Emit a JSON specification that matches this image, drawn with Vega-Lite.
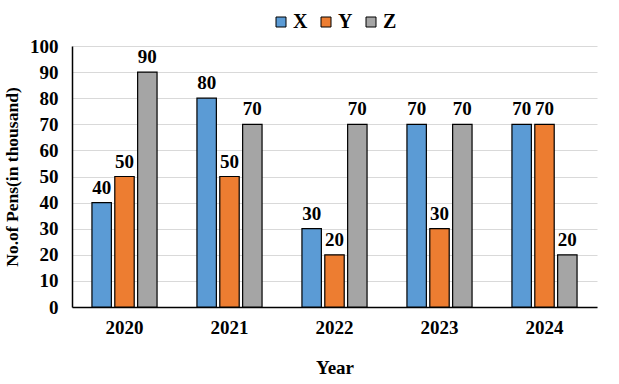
{
  "$schema": "https://vega.github.io/schema/vega-lite/v6.json",
  "autosize": "none",
  "width": 525,
  "height": 261,
  "padding": {"left": 72, "top": 46, "right": 22, "bottom": 77},
  "background": "white",
  "config": {
    "font": "Liberation Serif",
    "view": {"stroke": null},
    "axis": {"labelFont": "Liberation Serif", "titleFont": "Liberation Serif", "labelFontWeight": "bold", "titleFontWeight": "bold", "labelColor": "#000", "titleColor": "#000"}
  },
  "data": {
    "values": [
      {"Year": "2020", "Series": "X", "Value": 40},
      {"Year": "2020", "Series": "Y", "Value": 50},
      {"Year": "2020", "Series": "Z", "Value": 90},
      {"Year": "2021", "Series": "X", "Value": 80},
      {"Year": "2021", "Series": "Y", "Value": 50},
      {"Year": "2021", "Series": "Z", "Value": 70},
      {"Year": "2022", "Series": "X", "Value": 30},
      {"Year": "2022", "Series": "Y", "Value": 20},
      {"Year": "2022", "Series": "Z", "Value": 70},
      {"Year": "2023", "Series": "X", "Value": 70},
      {"Year": "2023", "Series": "Y", "Value": 30},
      {"Year": "2023", "Series": "Z", "Value": 70},
      {"Year": "2024", "Series": "X", "Value": 70},
      {"Year": "2024", "Series": "Y", "Value": 70},
      {"Year": "2024", "Series": "Z", "Value": 20}
    ]
  },
  "encoding": {
    "x": {
      "field": "Year", "type": "nominal",
      "scale": {"paddingInner": 0.38, "paddingOuter": 0.19},
      "axis": {"labelAngle": 0, "labelFontSize": 19, "labelPadding": 11, "ticks": false, "domainColor": "#000", "domainWidth": 1.5, "title": "Year", "titleFontSize": 19, "titlePadding": 21}
    },
    "xOffset": {"field": "Series", "type": "nominal", "scale": {"paddingInner": 0.15}},
    "y": {
      "field": "Value", "type": "quantitative",
      "scale": {"domain": [0, 100], "nice": false},
      "axis": {"values": [0,10,20,30,40,50,60,70,80,90,100], "labelFontSize": 19, "labelPadding": 14, "ticks": false, "domainColor": "#000", "domainWidth": 1.5, "gridColor": "#d9d9d9", "title": "No.of Pens(in thousand)", "titleFontSize": 17.5, "titlePadding": 8}
    }
  },
  "layer": [
    {
      "mark": {"type": "bar", "stroke": "#000", "strokeWidth": 1.2},
      "encoding": {
        "color": {
          "field": "Series", "type": "nominal",
          "scale": {"domain": ["X", "Y", "Z"], "range": ["#5B9BD5", "#ED7D31", "#A5A5A5"]},
          "legend": {
            "title": null, "orient": "none", "direction": "horizontal",
            "legendX": 199, "legendY": -34,
            "symbolType": "square", "symbolSize": 100, "symbolStrokeColor": "#000", "symbolStrokeWidth": 1,
            "labelFontSize": 20, "labelFontWeight": "bold", "labelColor": "#000", "labelFont": "Liberation Serif",
            "columnPadding": 8, "labelOffset": 2
          }
        }
      }
    },
    {
      "mark": {"type": "text", "dy": -15, "fontSize": 19, "fontWeight": "bold", "font": "Liberation Serif", "color": "#000"},
      "encoding": {"text": {"field": "Value", "type": "quantitative"}}
    }
  ]
}
